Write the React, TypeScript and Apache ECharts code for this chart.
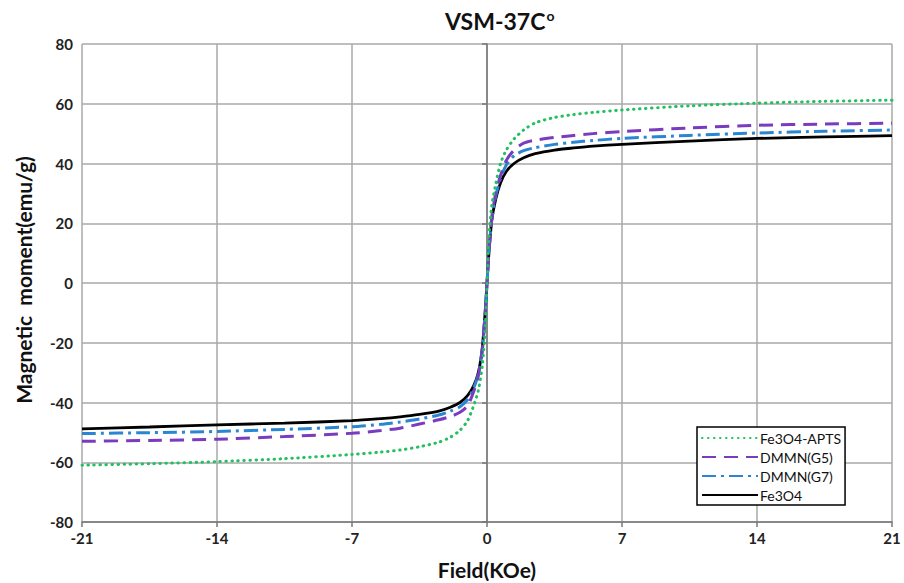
import React, { useEffect, useRef } from "react";
import * as echarts from "echarts";

const fieldKOe = [-21, -17.5, -14, -10.5, -7, -5.5, -4.5, -3.5, -2.5, -1.9, -1.4, -1.0, -0.7, -0.45, -0.25, -0.1, 0, 0.1, 0.25, 0.45, 0.7, 1.0, 1.4, 1.9, 2.5, 3.5, 4.5, 5.5, 7, 10.5, 14, 17.5, 21];
const fe3o4Apts = [-61, -60.5, -59.8, -58.8, -57.4, -56.6, -55.9, -54.8, -53.3, -51.6, -49.3, -46, -41.2, -36, -28, -16, 0, 15, 26, 33, 40, 44.5, 48.2, 51.2, 53.6, 55.4, 56.4, 57.1, 57.9, 59.3, 60.2, 60.8, 61.2];
const dmmnG5 = [-53, -52.7, -52.3, -51.4, -50.3, -49.4, -48.6, -47.2, -45.8, -44.7, -43.3, -41, -36.5, -31, -23, -11, 0, 11, 22, 30, 36, 41, 44.5, 46.8, 47.8, 48.7, 49.4, 50, 50.7, 51.9, 52.8, 53.2, 53.5];
const dmmnG7 = [-50.4, -50.1, -49.7, -49, -48.1, -47.3, -46.5, -45.5, -44.2, -42.9, -41.4, -39, -35.3, -30.5, -22.5, -10.5, 0, 10.5, 21.5, 29, 35, 39.5, 42.6, 44.3, 45.3, 46.4, 47.1, 47.7, 48.4, 49.4, 50.2, 50.8, 51.2];
const fe3o4 = [-48.8, -48.2, -47.5, -46.9, -46.1, -45.4, -44.8, -44, -42.9, -41.6, -40, -37.6, -34.5, -30, -22, -10, 0, 10, 21, 28, 33.5, 37.3, 40, 41.9, 43.3, 44.5, 45.2, 45.8, 46.4, 47.5, 48.4, 48.9, 49.3];

const seriesNames = ["Fe3O4-APTS", "DMMN(G5)", "DMMN(G7)", "Fe3O4"];
const seriesValues = [fe3o4Apts, dmmnG5, dmmnG7, fe3o4];
const seriesColors = ["#22c061", "#7a3cbf", "#2a86d3", "#000000"];
const seriesDash: any[] = [[0.5, 5.5], [14, 8], [14, 5, 3, 5], "solid"];

const titleText = "VSM-37C";
const xName = "Field(KOe)";
const yName = "Magnetic  moment(emu/g)";

export default function App() {
  const ref = useRef<HTMLDivElement>(null);
  useEffect(() => {
    if (!ref.current) return;
    const chart = echarts.init(ref.current, undefined, { renderer: "svg" });
    const font = "Lato, 'Open Sans', sans-serif";
    chart.setOption({
      animation: false,
      backgroundColor: "#ffffff",
      title: {
        text: "{a|" + titleText + "}{b|o}",
        left: 440,
        top: 3,
        textStyle: {
          rich: {
            a: { fontFamily: font, fontSize: 23, fontWeight: "bold", color: "#111" },
            b: { fontFamily: font, fontSize: 14, fontWeight: "bold", color: "#111", padding: [0, 0, 11, 1] },
          },
        },
      },
      graphic: [
        {
          type: "text",
          x: 487,
          y: 569,
          style: {
            text: xName,
            fontFamily: font,
            fontSize: 21,
            fontWeight: "bold",
            fill: "#111",
            align: "center",
            verticalAlign: "middle",
          },
        },
        {
          type: "text",
          x: 23,
          y: 280,
          rotation: Math.PI / 2,
          style: {
            text: yName,
            fontFamily: font,
            fontSize: 21,
            fontWeight: "bold",
            fill: "#111",
            align: "center",
            verticalAlign: "middle",
          },
        },
      ],
      legend: {
        orient: "vertical",
        left: 697,
        top: 427,
        width: 160,
        itemWidth: 56,
        itemHeight: 12,
        itemGap: 5,
        padding: [4, 4, 3, 4],
        borderColor: "#000",
        borderWidth: 1.5,
        backgroundColor: "#fff",
        itemStyle: { opacity: 0 },
        textStyle: { fontFamily: font, fontSize: 14, color: "#111", padding: [0, 0, 0, -3] },
        data: seriesNames,
      },
      grid: { left: 82, right: 12, top: 44, bottom: 61 },
      xAxis: {
        type: "value",
        min: -21,
        max: 21,
        interval: 7,
        axisLine: { show: true, onZero: false, lineStyle: { color: "#777", width: 1.5 } },
        axisTick: { show: true, length: 5, lineStyle: { color: "#777", width: 1.5 } },
        axisLabel: { fontFamily: font, fontSize: 15, fontWeight: "bold", color: "#222", margin: 8 },
        splitLine: { show: true, lineStyle: { color: "#a8a8a8", width: 1.5 } },
      },
      yAxis: {
        type: "value",
        min: -80,
        max: 80,
        interval: 20,
        axisLine: { show: true, lineStyle: { color: "#777", width: 1.5 } },
        axisTick: { show: true, length: 5, lineStyle: { color: "#777", width: 1.5 } },
        axisLabel: { fontFamily: font, fontSize: 15, fontWeight: "bold", color: "#222", margin: 9 },
        splitLine: { show: true, lineStyle: { color: "#a8a8a8", width: 1.5 } },
      },
      series: seriesNames.map((name, i) => ({
        name,
        type: "line",
        data: fieldKOe.map((x, j) => [x, seriesValues[i][j]]),
        showSymbol: false,
        symbol: "none",
        smooth: 0.25,
        z: 10 - i,
        itemStyle: { color: seriesColors[i] },
        lineStyle: {
          color: seriesColors[i],
          width: i === 3 ? 2.8 : 3,
          type: seriesDash[i],
          cap: i === 0 ? "round" : "butt",
        },
      })),
    });
    return () => chart.dispose();
  }, []);
  return (
    <div
      ref={ref}
      style={{ position: "fixed", left: 0, top: 0, width: 904, height: 583 }}
    />
  );
}
